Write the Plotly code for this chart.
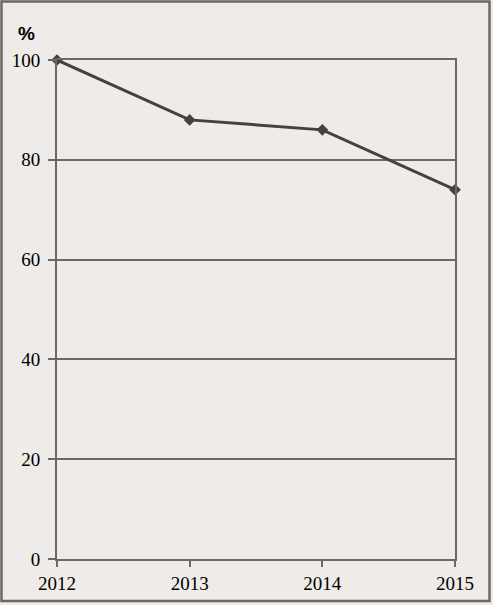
import plotly.graph_objects as go

years = [2012, 2013, 2014, 2015]
values = [100, 88, 86, 74]
y_ticks = [0, 20, 40, 60, 80, 100]

GRID = "#6F6764"
LINE = "#4A3F3C"
BG = "#EEEBE8"

L, R, T, B = 57, 455, 60, 559
W, H = 493, 605
pw, ph = R - L, B - T

def px(x):
    return (x - L) / pw

def py(y):
    return (B - y) / ph

fig = go.Figure()
fig.add_trace(go.Scatter(
    x=years, y=values, mode="lines+markers",
    line=dict(color=LINE, width=3),
    marker=dict(symbol="diamond", size=9, color=LINE),
    showlegend=False, cliponaxis=False,
))

fig.update_layout(
    width=W, height=H,
    margin=dict(l=L, r=W - R, t=T, b=H - B, autoexpand=False),
    paper_bgcolor=BG, plot_bgcolor=BG,
    font=dict(family="Liberation Serif", size=19, color="black"),
    xaxis=dict(
        range=[2012, 2015], tickvals=years, ticktext=[str(y) for y in years],
        showgrid=False, zeroline=False, showline=True, linecolor=GRID, linewidth=2,
        mirror=True, ticks="outside", ticklen=6, tickwidth=2, tickcolor=GRID,
        ticklabelstandoff=0, automargin=False,
    ),
    yaxis=dict(
        range=[0, 100], tickvals=y_ticks, showgrid=True, gridcolor=GRID, gridwidth=2,
        zeroline=False, showline=True, linecolor=GRID, linewidth=2, mirror=True,
        ticks="outside", ticklen=7, tickwidth=2, tickcolor=GRID,
        ticklabelstandoff=4, automargin=False,
    ),
    annotations=[dict(
        text="<b>%</b>", x=px(26), y=py(33), xref="paper", yref="paper",
        showarrow=False, font=dict(family="Liberation Sans", size=19, color="black"),
        xanchor="center", yanchor="middle",
    )],
    shapes=[dict(
        type="rect", xref="paper", yref="paper",
        x0=px(1.5), x1=px(489.5), y0=py(601), y1=py(1.5),
        line=dict(color=GRID, width=2.5), layer="below",
    )],
)

fig.write_html(
    "out.html",
    config={"displayModeBar": False},
    post_script="document.body.style.margin='0';document.body.style.overflow='hidden';",
)
